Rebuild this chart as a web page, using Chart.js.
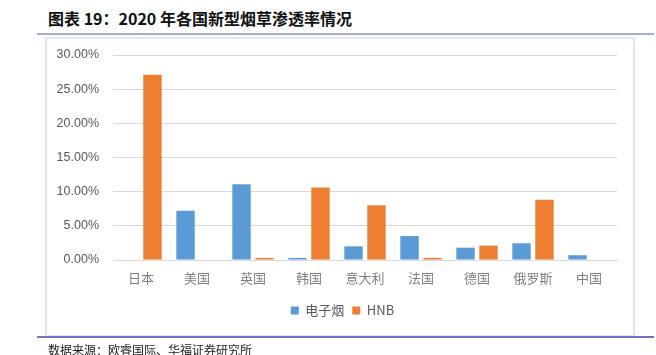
<!DOCTYPE html>
<html>
<head>
<meta charset="utf-8">
<script src="https://cdn.jsdelivr.net/npm/chart.js@4"></script>
<style>
  html, body { margin:0; padding:0; background:#fff; }
  #page { position:relative; width:656px; height:355px; overflow:hidden; background:#fff; }
  #title { position:absolute; left:48px; top:7px; font:bold 16px "Noto Sans CJK SC", sans-serif; color:#111; white-space:nowrap; line-height:22px; }
  #topline { position:absolute; left:37px; top:33px; width:617px; height:2px; background:#aaaad8; }
  #box { position:absolute; left:45px; top:37px; width:586px; height:296px; border:2px solid #e4e4e4; }
  #botline { position:absolute; left:37px; top:336px; width:617px; height:2px; background:#7474bc; }
  #source { position:absolute; left:48px; top:342px; font:12px "Noto Sans CJK SC", sans-serif; color:#222; white-space:nowrap; line-height:16px; }
  #wrap { position:absolute; left:0; top:0; width:656px; height:355px; }
</style>
</head>
<body>
<div id="page">
  <div id="title">图表 19：2020 年各国新型烟草渗透率情况</div>
  <div id="topline"></div>
  <div id="box"></div>
  <div id="wrap"><canvas id="c" width="656" height="355"></canvas></div>
  <div id="botline"></div>
  <div id="source">数据来源：欧睿国际、华福证券研究所</div>
</div>
<script>
const categories = ["日本", "美国", "英国", "韩国", "意大利", "法国", "德国", "俄罗斯", "中国"];
const ecigValues = [0, 7.2, 11.1, 0.3, 2.0, 3.5, 1.8, 2.45, 0.7];
const hnbValues  = [27.1, 0, 0.3, 10.6, 8.0, 0.3, 2.1, 8.8, 0];
const seriesNames = ["电子烟", "HNB"];
const yTicks = [0, 5, 10, 15, 20, 25, 30];

const legendShift = {
  id: 'legendShift',
  afterLayout(chart) {
    if (chart.legend) { chart.legend.left += 34; chart.legend.right += 34; }
  }
};

new Chart(document.getElementById('c'), {
  type: 'bar',
  data: {
    labels: categories,
    datasets: [
      { label: seriesNames[0], data: ecigValues, backgroundColor: '#5B9BD5', borderWidth: 0, categoryPercentage: 0.82, barPercentage: 0.8 },
      { label: seriesNames[1], data: hnbValues, backgroundColor: '#ED7D31', borderWidth: 0, categoryPercentage: 0.82, barPercentage: 0.8 }
    ]
  },
  plugins: [legendShift],
  options: {
    responsive: false,
    animation: false,
    devicePixelRatio: 1,
    layout: { padding: { left: 0, right: 39, top: 55, bottom: 28 } },
    plugins: {
      tooltip: { enabled: false },
      legend: {
        position: 'bottom',
        labels: {
          boxWidth: 8, boxHeight: 8, padding: 8,
          color: '#595959',
          font: { family: '"Noto Sans CJK SC", sans-serif', size: 13 }
        }
      }
    },
    scales: {
      x: {
        grid: { display: false, drawTicks: false },
        border: { display: true, color: '#d9d9d9', width: 1 },
        ticks: { color: '#7f7f7f', padding: 10, font: { family: '"Noto Sans CJK SC", sans-serif', size: 13 } },
        afterFit: (s) => { s.height = 36; }
      },
      y: {
        min: 0, max: 30,
        afterBuildTicks: (s) => { s.ticks = yTicks.map(v => ({ value: v })); },
        grid: { color: '#d9d9d9', lineWidth: 1, drawTicks: false },
        border: { display: false },
        ticks: {
          color: '#595959', padding: 14,
          font: { family: '"Liberation Sans", Arial, sans-serif', size: 12.5 },
          callback: (v) => v.toFixed(2) + '%'
        },
        afterFit: (s) => { s.width = 113; }
      }
    }
  }
});
</script>
</body>
</html>
